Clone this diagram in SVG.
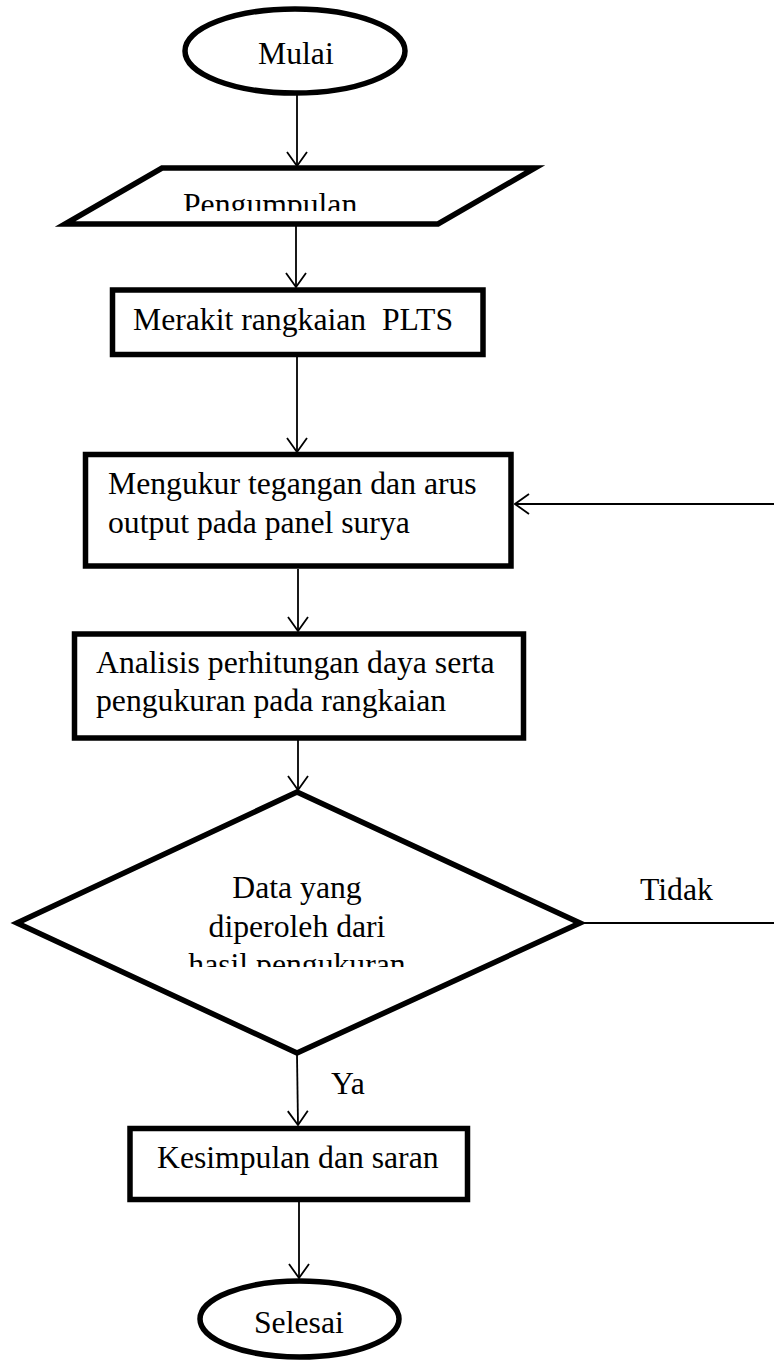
<svg xmlns="http://www.w3.org/2000/svg" width="774" height="1360" viewBox="0 0 774 1360">
<style>
.shape{fill:#fff;stroke:#000;stroke-width:5.5;stroke-linejoin:miter}
.conn{fill:none;stroke:#000;stroke-width:1.8}
text{font-family:"Liberation Serif","Times New Roman",serif;font-size:31.7px;fill:#000;white-space:pre}
.c{text-anchor:middle}
</style>
<defs>
<marker id="arr" viewBox="0 0 16 22" refX="15" refY="11" markerWidth="16" markerHeight="22" markerUnits="userSpaceOnUse" orient="auto">
<path d="M1,1 L15,11 L1,21" fill="none" stroke="#000" stroke-width="1.8"/>
</marker>
<clipPath id="clipP"><rect x="0" y="150" width="774" height="61"/></clipPath>
<clipPath id="clipD"><rect x="0" y="940" width="774" height="27"/></clipPath>
</defs>
<rect width="774" height="1360" fill="#fff"/>
<g id="connectors">
<line class="conn" x1="297" y1="93" x2="297" y2="166" marker-end="url(#arr)"/>
<line class="conn" x1="296" y1="226" x2="296" y2="287" marker-end="url(#arr)"/>
<line class="conn" x1="297" y1="357" x2="297" y2="452" marker-end="url(#arr)"/>
<line class="conn" x1="298" y1="569" x2="298" y2="631" marker-end="url(#arr)"/>
<line class="conn" x1="298" y1="740" x2="298" y2="790" marker-end="url(#arr)"/>
<line class="conn" x1="297" y1="1055" x2="298" y2="1125" marker-end="url(#arr)"/>
<line class="conn" x1="299" y1="1202" x2="299" y2="1278" marker-end="url(#arr)"/>
<line class="conn" x1="580" y1="923" x2="774" y2="923"/>
<line class="conn" x1="774" y1="504" x2="515" y2="504" marker-end="url(#arr)"/>
<text x="640" y="900">Tidak</text>
<text x="331" y="1094">Ya</text>
</g>
<g id="mulai">
<ellipse class="shape" cx="295" cy="51" rx="110" ry="42"/>
<text x="258" y="64">Mulai</text>
</g>
<g id="pengumpulan">
<polygon class="shape" points="162,168 535,168 438,224 65,224"/>
<text x="183" y="215" clip-path="url(#clipP)">Pengumpulan</text>
</g>
<g id="merakit">
<rect class="shape" x="112.5" y="290" width="370.5" height="64.5"/>
<text x="133" y="330" xml:space="preserve">Merakit rangkaian  PLTS</text>
</g>
<g id="mengukur">
<rect class="shape" x="85.5" y="454.5" width="425.5" height="111.5"/>
<text x="108" y="494">Mengukur tegangan dan arus</text>
<text x="108" y="533">output pada panel surya</text>
</g>
<g id="analisis">
<rect class="shape" x="74.5" y="634" width="449" height="104"/>
<text x="96" y="673">Analisis perhitungan daya serta</text>
<text x="96" y="711">pengukuran pada rangkaian</text>
</g>
<g id="keputusan">
<polygon class="shape" points="297,792 580,923 297,1053 17,923"/>
<text class="c" x="297" y="898">Data yang</text>
<text class="c" x="297" y="937">diperoleh dari</text>
<text class="c" x="297" y="975" clip-path="url(#clipD)">hasil pengukuran</text>
</g>
<g id="kesimpulan">
<rect class="shape" x="130" y="1128.5" width="337.5" height="71"/>
<text x="157" y="1168">Kesimpulan dan saran</text>
</g>
<g id="selesai">
<ellipse class="shape" cx="299.5" cy="1319" rx="99.5" ry="38"/>
<text x="254" y="1333">Selesai</text>
</g>
</svg>
